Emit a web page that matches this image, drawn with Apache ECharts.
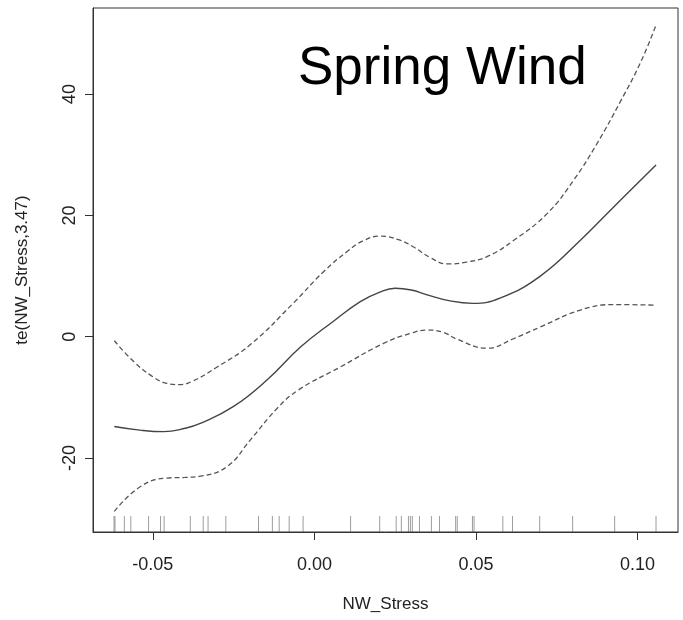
<!DOCTYPE html>
<html>
<head>
<meta charset="utf-8">
<script src="https://cdn.jsdelivr.net/npm/echarts@6/dist/echarts.min.js"></script>
<style>html,body{margin:0;padding:0;background:#fff}#c{width:683px;height:620px}</style>
</head>
<body>
<div id="c"></div>
<script>
// Fitted smooth (solid)
var fitX = [-0.0619, -0.0540, -0.0466, -0.0400, -0.0353, -0.0250, -0.0146, -0.0043, 0.0060, 0.0142, 0.0200, 0.0250, 0.0300, 0.0349, 0.0420, 0.0490, 0.0576, 0.0699, 0.0823, 0.0926, 0.1057];
var fitY = [-14.8, -15.4, -15.65, -15.1, -14.3, -11.5, -7.1, -1.7, 2.6, 5.8, 7.3, 8.0, 7.7, 6.9, 5.9, 5.5, 6.4, 10.0, 15.9, 21.4, 28.3];
// Upper confidence band (dashed)
var upX = [-0.0619, -0.0559, -0.0500, -0.0456, -0.0420, -0.0380, -0.0301, -0.0198, -0.0064, 0.0030, 0.0105, 0.0150, 0.0204, 0.0260, 0.0307, 0.0360, 0.0411, 0.0470, 0.0534, 0.0617, 0.0720, 0.0802, 0.0875, 0.0947, 0.1009, 0.1057];
var upY = [-0.66, -4.1, -6.6, -7.7, -7.9, -7.4, -5.0, -1.3, 5.6, 10.8, 14.2, 15.8, 16.6, 16.0, 14.8, 13.0, 12.0, 12.3, 13.2, 15.9, 20.3, 25.8, 31.9, 38.8, 45.2, 51.4];
// Lower confidence band (dashed)
var loX = [-0.0619, -0.0538, -0.0456, -0.0400, -0.0353, -0.0270, -0.0198, -0.0115, -0.0050, 0.0080, 0.0214, 0.0300, 0.0349, 0.0400, 0.0441, 0.0534, 0.0617, 0.0699, 0.0823, 0.0926, 0.1057];
var loY = [-28.8, -24.7, -23.3, -23.2, -23.0, -21.4, -17.0, -11.8, -8.8, -5.0, -1.1, 0.6, 1.1, 0.7, -0.4, -1.9, -0.3, 1.6, 4.4, 5.3, 5.2];
// Rug (observed NW_Stress values)
var rugX = [-0.0620, -0.0617, -0.0588, -0.0568, -0.0513, -0.0476, -0.0465, -0.0384, -0.0344, -0.0329, -0.0274, -0.0173, -0.0130, -0.0109, -0.0078, -0.0035, 0.0112, 0.0202, 0.0253, 0.0269, 0.0291, 0.0297, 0.0303, 0.0325, 0.0362, 0.0387, 0.0437, 0.0442, 0.0489, 0.0494, 0.0583, 0.0613, 0.0697, 0.0799, 0.0929, 0.1057];
// Ticks
var xTicks = [-0.05, 0.00, 0.05, 0.10];
var yTicks = [-20, 0, 20, 40];

var X_MIN = -0.0685, X_MAX = 0.1125, Y_MIN = -32.2, Y_MAX = 54.2;

function zip(a, b) { return a.map(function (v, i) { return [v, b[i]]; }); }

var FONT = 'Liberation Sans';
var chart = echarts.init(document.getElementById('c'), null, {renderer: 'canvas'});
chart.setOption({
  animation: false,
  backgroundColor: '#fff',
  title: {
    text: 'Spring Wind',
    left: 293, top: 38,
    textStyle: {fontFamily: FONT, fontSize: 53, fontWeight: 'normal', color: '#000'}
  },
  grid: {left: 93, right: 5, top: 8, bottom: 88, show: true, borderColor: '#333', borderWidth: 1, backgroundColor: 'transparent'},
  xAxis: {
    type: 'value', min: X_MIN, max: X_MAX,
    name: 'NW_Stress', nameLocation: 'middle', nameGap: 64,
    nameTextStyle: {fontFamily: FONT, fontSize: 17, color: '#222'},
    axisLine: {show: true, onZero: false, lineStyle: {color: '#333', width: 1}},
    axisTick: {show: true, length: 8, customValues: xTicks, lineStyle: {color: '#333'}},
    axisLabel: {customValues: xTicks, margin: 24, fontFamily: FONT, fontSize: 18, color: '#222',
      formatter: function (v) { return v.toFixed(2); }},
    splitLine: {show: false}
  },
  yAxis: {
    type: 'value', min: Y_MIN, max: Y_MAX,
    name: 'te(NW_Stress,3.47)', nameLocation: 'middle', nameGap: 62,
    nameTextStyle: {fontFamily: FONT, fontSize: 17, color: '#222'},
    axisLine: {show: true, onZero: false, lineStyle: {color: '#333', width: 1}},
    axisTick: {show: true, length: 8, customValues: yTicks, lineStyle: {color: '#333'}},
    axisLabel: {customValues: yTicks, rotate: 90, margin: 14, fontFamily: FONT, fontSize: 18, color: '#222'},
    splitLine: {show: false}
  },
  series: [
    {type: 'line', data: zip(fitX, fitY), smooth: 0.45, symbol: 'none',
      lineStyle: {color: '#444', width: 1.4}},
    {type: 'line', data: zip(upX, upY), smooth: 0.45, symbol: 'none',
      lineStyle: {color: '#555', width: 1.3, type: [5, 3]}},
    {type: 'line', data: zip(loX, loY), smooth: 0.45, symbol: 'none',
      lineStyle: {color: '#555', width: 1.3, type: [5, 3]}},
    {type: 'scatter', data: rugX.map(function (v) { return [v, Y_MIN]; }),
      symbol: 'rect', symbolSize: [1, 16], symbolOffset: [0, -8],
      itemStyle: {color: 'rgba(90,90,90,0.75)'}, silent: true}
  ]
});
</script>
</body>
</html>
